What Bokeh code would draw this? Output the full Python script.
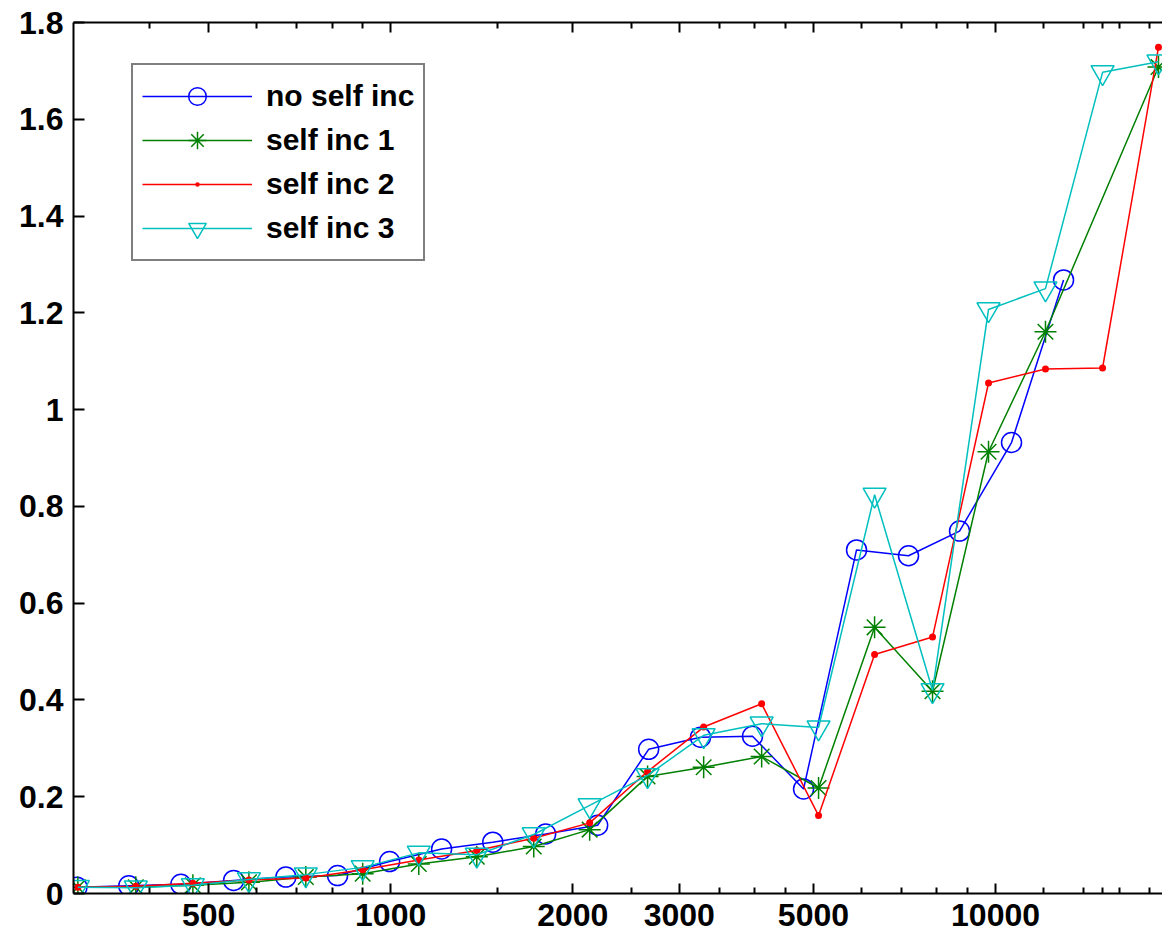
from bokeh.plotting import figure
from bokeh.models import (Range1d, FixedTicker, LogAxis, Legend, LegendItem)
from bokeh.embed import file_html
from bokeh.resources import INLINE

# Problem sizes (log axis) and run times for each variant
x_no_self = [303, 369, 450, 550, 671, 817, 996, 1214, 1475, 1804,
             2199, 2670, 3253, 3965, 4815, 5891, 7180, 8719, 10627, 12955]
y_no_self = [0.013, 0.016, 0.019, 0.027, 0.034, 0.037, 0.066, 0.092, 0.106, 0.123,
             0.141, 0.298, 0.323, 0.325, 0.216, 0.710, 0.698, 0.749, 0.932, 1.268]

x_self = [304, 379, 471, 583, 724, 899, 1113, 1388, 1724, 2133,
          2659, 3292, 4105, 5098, 6310, 7867, 9736, 12093, 15029, 18594]
y_self1 = [0.013, 0.013, 0.017, 0.023, 0.034, 0.041, 0.061, 0.076, 0.097, 0.132,
           0.242, 0.261, 0.283, 0.218, 0.550, 0.418, 0.913, 1.161, None, 1.708]
y_self2 = [0.013, 0.015, 0.021, 0.028, 0.032, 0.049, 0.069, 0.089, 0.114, 0.146,
           0.252, 0.344, 0.392, 0.161, 0.494, 0.530, 1.055, 1.084, 1.086, 1.749]
y_self3 = [0.013, 0.012, 0.017, 0.029, 0.039, 0.054, 0.084, 0.080, 0.122, 0.182,
           0.244, 0.327, 0.351, 0.343, 0.824, 0.420, 1.207, 1.250, 1.697, 1.719]

# self inc 1 has no sample at one size: keep only the measured points
x_self1 = [x for x, y in zip(x_self, y_self1) if y is not None]
y_self1 = [y for y in y_self1 if y is not None]

x_ticks = [500, 1000, 2000, 3000, 5000, 10000]
x_tick_labels = ["500", "1000", "2000", "3000", "5000", "10000"]
x_minor = [400, 600, 700, 800, 900, 1500, 2500, 3500, 4000, 4500,
           6000, 7000, 8000, 9000, 12000, 14000, 15000, 16000, 18000]
y_ticks = [0, 0.2, 0.4, 0.6, 0.8, 1, 1.2, 1.4, 1.6, 1.8]
y_tick_labels = ["0", "0.2", "0.4", "0.6", "0.8", "1", "1.2", "1.4", "1.6", "1.8"]

FONT = "Liberation Sans"

p = figure(width=1162, height=942, x_axis_type="log",
           x_range=Range1d(299, 18880), y_range=Range1d(0, 1.8),
           output_backend="svg", toolbar_location=None,
           min_border_left=73, min_border_right=0,
           min_border_top=22, min_border_bottom=49)
p.outline_line_color = None
p.xgrid.visible = False
p.ygrid.visible = False
p.background_fill_color = "white"
p.border_fill_color = "white"


def style_axis(ax, tick_in, minor_in):
    ax.axis_line_color = "black"
    ax.axis_line_width = 2
    ax.major_tick_line_color = "black"
    ax.major_tick_line_width = 2
    ax.minor_tick_line_color = "black"
    ax.minor_tick_line_width = 2
    ax.major_tick_in = tick_in
    ax.major_tick_out = 0
    ax.minor_tick_in = minor_in
    ax.minor_tick_out = 0
    ax.major_label_text_font = FONT
    ax.major_label_text_font_style = "bold"
    ax.major_label_text_font_size = "32px"
    ax.major_label_text_color = "black"


xticker = FixedTicker(ticks=x_ticks, minor_ticks=x_minor)
xa = p.xaxis[0]
xa.ticker = xticker
xa.major_label_overrides = dict(zip(x_ticks, x_tick_labels))
style_axis(xa, 10, 6)
xa.major_label_standoff = 10

ya = p.yaxis[0]
ya.ticker = FixedTicker(ticks=y_ticks, minor_ticks=[])
ya.major_label_overrides = dict(zip(y_ticks, y_tick_labels))
style_axis(ya, 11, 0)
ya.major_label_standoff = 10

# top edge of the box: ticks only, no labels
top = LogAxis(ticker=FixedTicker(ticks=x_ticks, minor_ticks=x_minor))
style_axis(top, 10, 6)
top.major_label_text_font_size = "1px"
top.major_label_text_color = None
top.major_label_standoff = 0
p.add_layout(top, "above")

LW = 1.5
series = [
    ("no self inc", x_no_self, y_no_self, "#0000FF", "circle", 20, None),
    ("self inc 1", x_self1, y_self1, "#008000", "asterisk", 22, None),
    ("self inc 2", x_self, y_self2, "#FF0000", "dot", 28, "#FF0000"),
    ("self inc 3", x_self, y_self3, "#00BFBF", "inverted_triangle", 23, None),
]

items = []
for label, xs, ys, color, marker, size, fill in series:
    ln = p.line(xs, ys, line_color=color, line_width=LW)
    sc = p.scatter(xs, ys, marker=marker, size=size, line_color=color,
                   line_width=LW, fill_color=fill)
    items.append(LegendItem(label=label, renderers=[ln, sc]))

legend = Legend(items=items, location=(58, 632))
legend.label_text_font = FONT
legend.label_text_font_style = "bold"
legend.label_text_font_size = "30px"
legend.label_text_color = "black"
legend.glyph_width = 110
legend.glyph_height = 44
legend.label_height = 44
legend.label_standoff = 14
legend.spacing = 0
legend.padding = 9
legend.margin = 0
legend.border_line_color = "black"
legend.border_line_width = 2
legend.background_fill_color = "white"
legend.background_fill_alpha = 1
p.add_layout(legend, "center")

open("out.html", "w").write(file_html(p, INLINE))
